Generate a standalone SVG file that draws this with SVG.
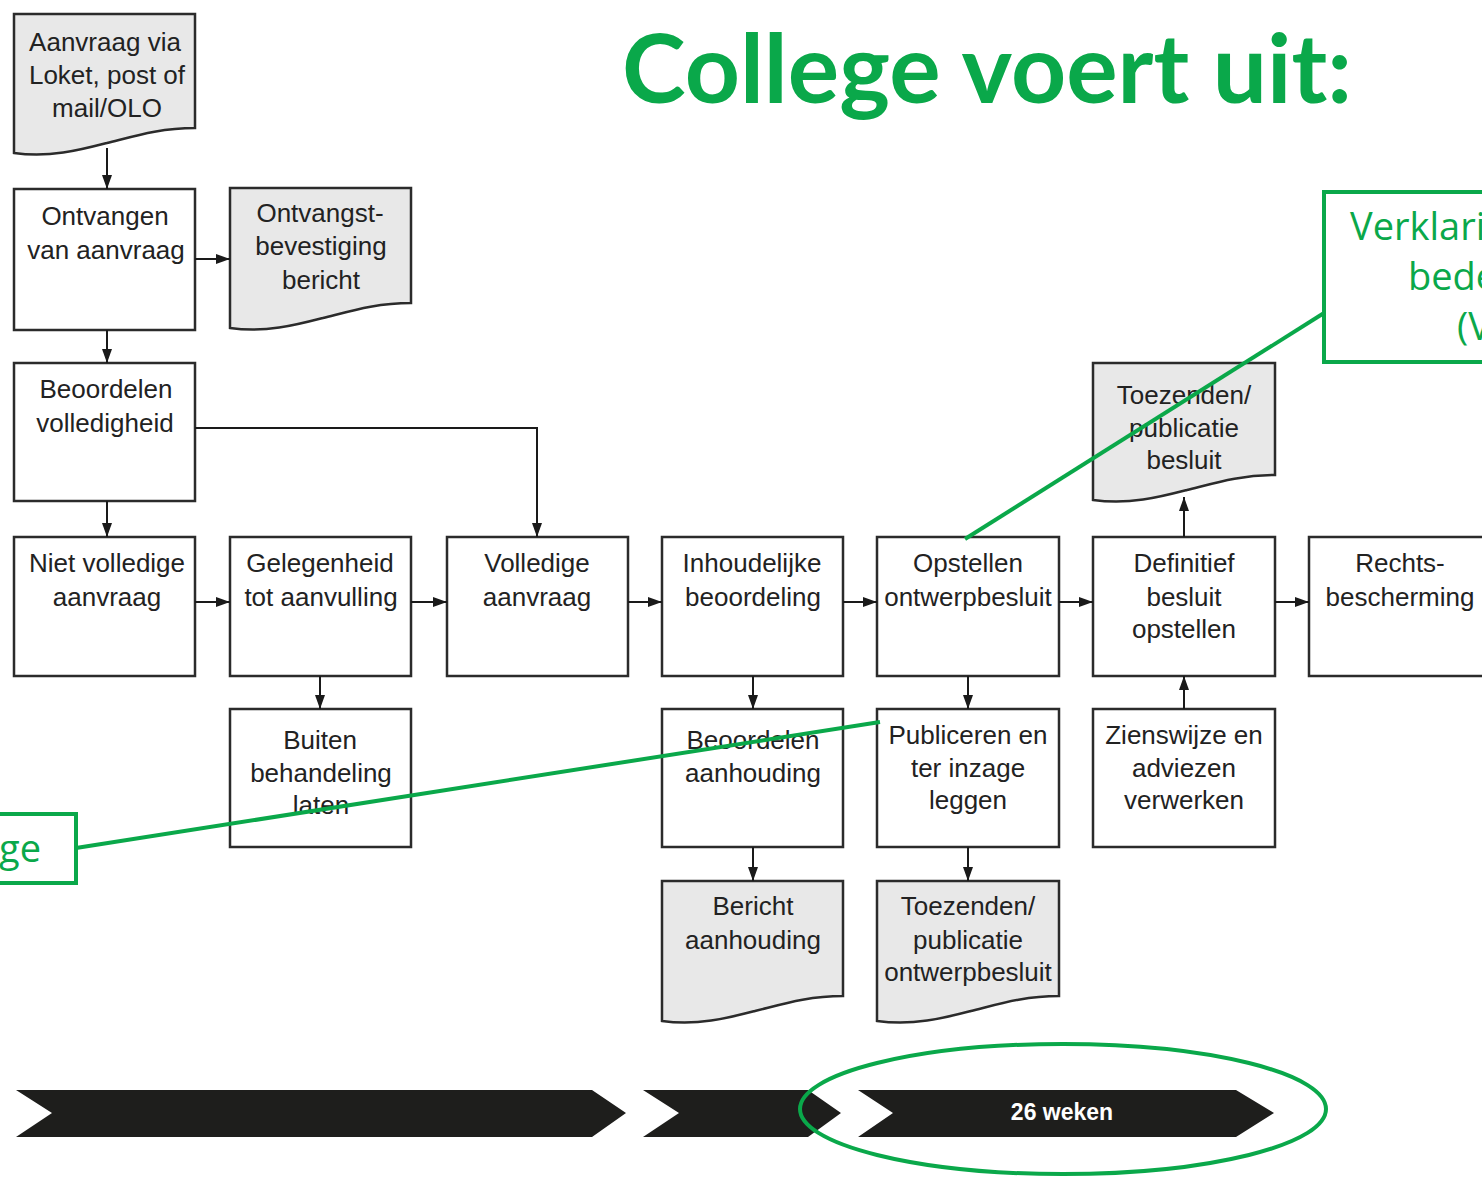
<svg xmlns="http://www.w3.org/2000/svg" width="1482" height="1178" viewBox="0 0 1482 1178">
<style>
.box{fill:#fff;stroke:#2b2b2b;stroke-width:2.5}
.doc{fill:#e8e8e8;stroke:#2b2b2b;stroke-width:2.5}
.t{font-family:"Liberation Sans",Arial,sans-serif;font-size:26px;fill:#222;text-anchor:middle}
.con{fill:none;stroke:#1a1a1a;stroke-width:2}
.g{fill:none;stroke:#0aa84a;stroke-width:4}
.gt{font-family:"Open Sans","Liberation Sans",sans-serif;font-size:38px;fill:#0aa84a}
</style>
<defs>
<marker id="ah" viewBox="0 0 14 10" refX="14" refY="5" markerWidth="14" markerHeight="10" markerUnits="userSpaceOnUse" orient="auto">
<path d="M0,0 L14,5 L0,10 Z" fill="#1a1a1a"/>
</marker>
</defs>
<rect width="1482" height="1178" fill="#fff"/>
<text x="987" y="103" text-anchor="middle" font-family="Lato,'Open Sans',sans-serif" font-weight="bold" font-size="95" fill="#0aa84a" textLength="730" lengthAdjust="spacingAndGlyphs">College voert uit:</text>

<g id="n-aanvraag"><path class="doc" d="M14,14 H195 V128 C160,128 135,136 107,143 C80,150 50,158 14,153 Z"/>
<text class="t" x="105" y="51">Aanvraag via</text><text class="t" x="107" y="84">Loket, post of</text><text class="t" x="107" y="117">mail/OLO</text></g>
<g id="n-ontvangen"><rect class="box" x="14" y="189" width="181" height="141"/>
<text class="t" x="105" y="225">Ontvangen</text><text class="t" x="106" y="259">van aanvraag</text></g>
<g id="n-ontvangst"><path class="doc" d="M230,188 H411 V303 C376,303 351,311 323,318 C296,325 266,333 230,328 Z"/>
<text class="t" x="320" y="222">Ontvangst-</text><text class="t" x="321" y="255">bevestiging</text><text class="t" x="321" y="289">bericht</text></g>
<g id="n-beoordelen"><rect class="box" x="14" y="363" width="181" height="138"/>
<text class="t" x="106" y="398">Beoordelen</text><text class="t" x="105" y="432">volledigheid</text></g>
<g id="n-nietvolledig"><rect class="box" x="14" y="537" width="181" height="139"/>
<text class="t" x="107" y="572">Niet volledige</text><text class="t" x="107" y="606">aanvraag</text></g>
<g id="n-gelegenheid"><rect class="box" x="230" y="537" width="181" height="139"/>
<text class="t" x="320" y="572">Gelegenheid</text><text class="t" x="321" y="606">tot aanvulling</text></g>
<g id="n-volledig"><rect class="box" x="447" y="537" width="181" height="139"/>
<text class="t" x="537" y="572">Volledige</text><text class="t" x="537" y="606">aanvraag</text></g>
<g id="n-inhoudelijk"><rect class="box" x="662" y="537" width="181" height="139"/>
<text class="t" x="752" y="572">Inhoudelijke</text><text class="t" x="753" y="606">beoordeling</text></g>
<g id="n-opstellen"><rect class="box" x="877" y="537" width="182" height="139"/>
<text class="t" x="968" y="572">Opstellen</text><text class="t" x="968" y="606">ontwerpbesluit</text></g>
<g id="n-definitief"><rect class="box" x="1093" y="537" width="182" height="139"/>
<text class="t" x="1184" y="572">Definitief</text><text class="t" x="1184" y="606">besluit</text><text class="t" x="1184" y="638">opstellen</text></g>
<g id="n-rechts"><rect class="box" x="1309" y="537" width="181" height="139"/>
<text class="t" x="1400" y="572">Rechts-</text><text class="t" x="1400" y="606">bescherming</text></g>
<g id="n-toezenden-besluit"><path class="doc" d="M1093,363 H1275 V475 C1240,475 1215,483 1187,490 C1160,497 1130,505 1093,500 Z"/>
<text class="t" x="1184" y="404">Toezenden/</text><text class="t" x="1184" y="437">publicatie</text><text class="t" x="1184" y="469">besluit</text></g>
<g id="n-buiten"><rect class="box" x="230" y="709" width="181" height="138"/>
<text class="t" x="320" y="749">Buiten</text><text class="t" x="321" y="782">behandeling</text><text class="t" x="321" y="814">laten</text></g>
<g id="n-aanhouding"><rect class="box" x="662" y="709" width="181" height="138"/>
<text class="t" x="753" y="749">Beoordelen</text><text class="t" x="753" y="782">aanhouding</text></g>
<g id="n-publiceren"><rect class="box" x="877" y="709" width="182" height="138"/>
<text class="t" x="968" y="744">Publiceren en</text><text class="t" x="968" y="777">ter inzage</text><text class="t" x="968" y="809">leggen</text></g>
<g id="n-zienswijze"><rect class="box" x="1093" y="709" width="182" height="138"/>
<text class="t" x="1184" y="744">Zienswijze en</text><text class="t" x="1184" y="777">adviezen</text><text class="t" x="1184" y="809">verwerken</text></g>
<g id="n-bericht"><path class="doc" d="M662,881 H843 V996 C808,996 783,1004 755,1011 C728,1018 698,1026 662,1021 Z"/>
<text class="t" x="753" y="915">Bericht</text><text class="t" x="753" y="949">aanhouding</text></g>
<g id="n-toezenden-ontwerp"><path class="doc" d="M877,881 H1059 V996 C1024,996 999,1004 971,1011 C944,1018 914,1026 877,1021 Z"/>
<text class="t" x="968" y="915">Toezenden/</text><text class="t" x="968" y="949">publicatie</text><text class="t" x="968" y="981">ontwerpbesluit</text></g>

<g id="connectors">
<path class="con" d="M107,148 V189" marker-end="url(#ah)"/>
<path class="con" d="M195,259 H230" marker-end="url(#ah)"/>
<path class="con" d="M107,330 V363" marker-end="url(#ah)"/>
<path class="con" d="M107,501 V537" marker-end="url(#ah)"/>
<path class="con" d="M195,428 H537 V537" marker-end="url(#ah)"/>
<path class="con" d="M195,602 H230" marker-end="url(#ah)"/>
<path class="con" d="M411,602 H447" marker-end="url(#ah)"/>
<path class="con" d="M628,602 H662" marker-end="url(#ah)"/>
<path class="con" d="M843,602 H877" marker-end="url(#ah)"/>
<path class="con" d="M1059,602 H1093" marker-end="url(#ah)"/>
<path class="con" d="M1275,602 H1309" marker-end="url(#ah)"/>
<path class="con" d="M320,676 V709" marker-end="url(#ah)"/>
<path class="con" d="M753,676 V709" marker-end="url(#ah)"/>
<path class="con" d="M753,847 V881" marker-end="url(#ah)"/>
<path class="con" d="M968,676 V709" marker-end="url(#ah)"/>
<path class="con" d="M968,847 V881" marker-end="url(#ah)"/>
<path class="con" d="M1184,537 V497" marker-end="url(#ah)"/>
<path class="con" d="M1184,709 V676" marker-end="url(#ah)"/>
</g>

<g id="timeline">
<path d="M16,1090 H592 L626,1113 L592,1137 H16 L52,1113 Z" fill="#1e1e1c"/>
<path d="M643,1090 H808 L841,1113 L808,1137 H643 L679,1113 Z" fill="#1e1e1c"/>
<path d="M858,1090 H1236 L1274,1113 L1236,1137 H858 L893,1113 Z" fill="#1e1e1c"/>
<text x="1062" y="1120" text-anchor="middle" font-family="'Liberation Sans',Arial,sans-serif" font-weight="bold" font-size="23" fill="#fff">26 weken</text>
</g>

<g id="annotations">
<ellipse class="g" cx="1063" cy="1109" rx="263" ry="65" stroke-width="6"/>
<rect class="g" x="1324" y="192" width="200" height="170"/>
<text class="gt" x="1350" y="240">Verklari</text>
<text class="gt" x="1408" y="290">bede</text>
<text class="gt" x="1457" y="340">(V</text>
<line class="g" x1="1324" y1="313" x2="965" y2="539"/>
<rect class="g" x="-20" y="814" width="96" height="69"/>
<text class="gt" x="-1" y="862">ge</text>
<line class="g" x1="76" y1="848" x2="880" y2="722"/>
</g>
</svg>
